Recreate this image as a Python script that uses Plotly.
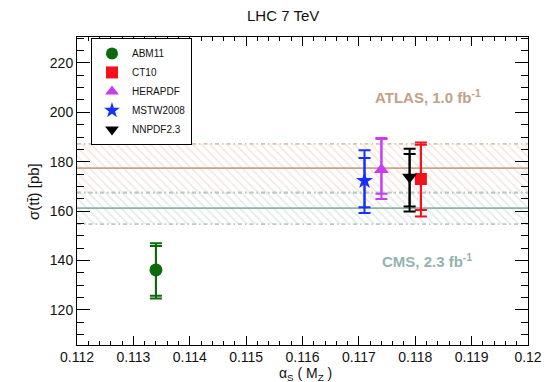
import plotly.graph_objects as go

# PDF sets and their alpha_s(M_Z) positions
pdf_names = ["ABM11", "CT10", "HERAPDF", "MSTW2008", "NNPDF2.3"]
alpha_s = [0.1134, 0.1181, 0.1174, 0.1171, 0.1179]
sigma = [136.2, 173.0, 176.8, 172.3, 173.8]
# inner (scale) uncertainties
inner_up = [9.7, 13.9, 12.4, 9.2, 9.3]
inner_dn = [10.5, 12.5, 9.8, 10.7, 11.9]
# outer (total) uncertainties
outer_up = [10.8, 14.8, 12.8, 12.3, 11.5]
outer_dn = [11.6, 15.2, 11.9, 13.1, 14.0]

colors = ["#0b6b0b", "#f5101e", "#c83cf5", "#1530ff", "#000000"]
symbols = ["circle", "square", "triangle-up", "star", "triangle-down"]
msizes = [13, 12, 13, 13, 13]

# measurements: central value, low and high edge of the band
atlas = [177.4, 167.4, 187.2]
cms = [161.2, 154.7, 167.6]
x_span = [0.112, 0.12]

font_family = "Liberation Sans, Arial, sans-serif"

# plot area in pixels
L, R, T, B = 77, 28, 37, 37
W, H = 556, 382
PW, PH = W - L - R, H - T - B

fig = go.Figure()


def add_band(vals, line_col, hatch_col, edge_col):
    c, lo, hi = vals
    fig.add_trace(go.Scatter(
        x=[x_span[0], x_span[1], x_span[1], x_span[0], x_span[0]],
        y=[lo, lo, hi, hi, lo],
        mode="lines", fill="toself", line=dict(width=0),
        fillcolor="rgba(0,0,0,0)",
        fillpattern=dict(shape="\\", fgcolor=hatch_col,
                         bgcolor="rgba(255,255,255,0)", size=6, solidity=0.3),
        showlegend=False, hoverinfo="skip"))
    for edge in (lo, hi):
        fig.add_trace(go.Scatter(
            x=x_span, y=[edge, edge], mode="lines",
            line=dict(color=edge_col, width=1.8, dash="4px,3px,1.5px,3px"),
            showlegend=False, hoverinfo="skip"))
    fig.add_trace(go.Scatter(
        x=x_span, y=[c, c], mode="lines",
        line=dict(color=line_col, width=1.6),
        showlegend=False, hoverinfo="skip"))


add_band(atlas, "#c9a488", "#e6d2c3", "#dcc2ae")
add_band(cms, "#8fb3a9", "#c6d9d3", "#b3cbc4")

for i, name in enumerate(pdf_names):
    # total uncertainty with the marker (legend entry)
    fig.add_trace(go.Scatter(
        x=[alpha_s[i]], y=[sigma[i]], mode="markers", name=name,
        marker=dict(symbol=symbols[i], size=msizes[i], color=colors[i],
                    line=dict(width=0)),
        error_y=dict(type="data", symmetric=False,
                     array=[outer_up[i]], arrayminus=[outer_dn[i]],
                     color=colors[i], thickness=2, width=6)))
    # inner uncertainty
    fig.add_trace(go.Scatter(
        x=[alpha_s[i]], y=[sigma[i]], mode="markers",
        marker=dict(size=1, color="rgba(0,0,0,0)"),
        error_y=dict(type="data", symmetric=False,
                     array=[inner_up[i]], arrayminus=[inner_dn[i]],
                     color=colors[i], thickness=2, width=6),
        showlegend=False, hoverinfo="skip"))

fig.add_annotation(x=0.1192, y=206.3, xref="x", yref="y",
                   xanchor="right", yanchor="middle",
                   text="<b>ATLAS, 1.0 fb<sup>-1</sup></b>", showarrow=False,
                   font=dict(family=font_family, size=15, color="#c3a186"))
fig.add_annotation(x=0.11905, y=139.9, xref="x", yref="y",
                   xanchor="right", yanchor="middle",
                   text="<b>CMS, 2.3 fb<sup>-1</sup></b>", showarrow=False,
                   font=dict(family=font_family, size=15, color="#93b4ad"))

# title and axis titles, placed in pixel terms relative to the plot area
fig.add_annotation(xref="x domain", yref="y domain",
                   x=(283 - L) / PW, y=1 + (T - 15) / PH,
                   xanchor="center", yanchor="middle",
                   text="LHC 7 TeV", showarrow=False,
                   font=dict(family=font_family, size=15, color="#111"))
fig.add_annotation(xref="x domain", yref="y domain",
                   x=(33 - L) / PW, y=(H - B - 192) / PH, textangle=-90,
                   xanchor="center", yanchor="middle",
                   text="σ(tt̄) [pb]", showarrow=False,
                   font=dict(family=font_family, size=15, color="#111"))
fig.add_annotation(xref="x domain", yref="y domain",
                   x=(305 - L) / PW, y=-(374 - (H - B)) / PH,
                   xanchor="center", yanchor="middle",
                   text="α<sub>S</sub> ( M<sub>Z</sub> )", showarrow=False,
                   font=dict(family=font_family, size=14, color="#111"))

axis_common = dict(showline=True, linecolor="black", linewidth=1, mirror="allticks",
                   ticks="inside", tickcolor="black", showgrid=False,
                   zeroline=False,
                   tickfont=dict(family=font_family, size=14, color="#111"))

fig.update_xaxes(range=[0.112, 0.12], dtick=0.001, tick0=0.112, ticklen=9,
                 tickformat=".3~f", ticklabelstandoff=-1,
                 minor=dict(dtick=0.0002, ticklen=4, ticks="inside",
                            tickcolor="black", showgrid=False),
                 **axis_common)
fig.update_yaxes(range=[105.8, 230.5], dtick=20, tick0=100, ticklen=13,
                 minor=dict(dtick=5, ticklen=7, ticks="inside",
                            tickcolor="black", showgrid=False),
                 **axis_common)

fig.update_layout(
    width=W, height=H,
    margin=dict(l=L, r=R, t=T, b=B, autoexpand=False),
    plot_bgcolor="white", paper_bgcolor="white",
    legend=dict(x=(91 - L) / PW, y=0.997, xanchor="left", yanchor="top",
                bordercolor="black", borderwidth=1, bgcolor="white",
                font=dict(family=font_family, size=10, color="#111"),
                tracegroupgap=0, itemsizing="constant"),
)

fig.write_html("out.html")
